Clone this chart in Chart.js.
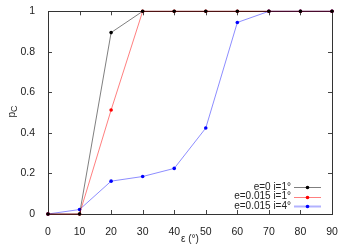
<!DOCTYPE html>
<html><head><meta charset="utf-8">
<script src="https://cdn.jsdelivr.net/npm/chart.js@4/dist/chart.umd.min.js"></script>
<style>html,body{margin:0;padding:0;background:#fff}#wrap{width:350px;height:245px}</style>
</head><body><div id="wrap"><canvas id="c" width="350" height="245"></canvas></div>
<script>
const epsilon = [0, 10, 20, 30, 40, 50, 60, 70, 80, 90];
const seriesNames = ['e=0 i=1°', 'e=0.015 i=1°', 'e=0.015 i=4°'];
const pcBlack = [0, 0, 0.895, 1, 1, 1, 1, 1, 1, 1];
const pcRed   = [0, 0, 0.513, 1, 1, 1, 1, 1, 1, 1];
const pcBlue  = [0, 0.022, 0.162, 0.185, 0.225, 0.424, 0.945, 1, 1, 1];
const xTicks = [0, 10, 20, 30, 40, 50, 60, 70, 80, 90];
const yTicks = [0, 0.2, 0.4, 0.6, 0.8, 1];

const FONT = '"Liberation Sans", Arial, sans-serif';
const pointCols = ['#000000', '#ff0000', '#0000ff'];
const lineCols = ['rgba(0,0,0,0.5)', 'rgba(255,0,0,0.5)', 'rgba(0,0,255,0.45)'];
const vals = [pcBlack, pcRed, pcBlue];

const datasets = vals.map((v, k) => ({
  label: seriesNames[k],
  data: epsilon.map((x, i) => ({x: x, y: v[i]})),
  borderColor: lineCols[k],
  backgroundColor: pointCols[k],
  pointBorderColor: pointCols[k],
  pointBackgroundColor: pointCols[k],
  borderWidth: 1,
  pointRadius: 1.8,
  pointBorderWidth: 0,
  pointHoverRadius: 1.8,
  tension: 0,
  clip: false
}));

const decor = {
  id: 'decor',
  beforeDatasetsDraw(chart) {
    const {ctx, chartArea: a, scales: {x, y}} = chart;
    ctx.save();
    ctx.strokeStyle = '#444';
    ctx.lineWidth = 1;
    ctx.beginPath();
    const L = 4;
    xTicks.forEach(t => {
      const px = Math.round(x.getPixelForValue(t)) + 0.5;
      ctx.moveTo(px, a.bottom); ctx.lineTo(px, a.bottom - L);
      ctx.moveTo(px, a.top); ctx.lineTo(px, a.top + L);
    });
    yTicks.forEach(t => {
      const py = Math.round(y.getPixelForValue(t)) + 0.5;
      ctx.moveTo(a.left, py); ctx.lineTo(a.left + L, py);
      ctx.moveTo(a.right, py); ctx.lineTo(a.right - L, py);
    });
    ctx.stroke();
    ctx.strokeStyle = '#333';
    ctx.strokeRect(Math.round(a.left) + 0.5, Math.round(a.top) + 0.5,
      Math.round(a.right - a.left), Math.round(a.bottom - a.top));
    ctx.restore();
  },
  afterDraw(chart) {
    const {ctx, chartArea: a} = chart;
    ctx.save();
    ctx.fillStyle = '#222';
    ctx.translate(15, 112);
    ctx.rotate(-Math.PI / 2);
    ctx.textBaseline = 'alphabetic';
    ctx.textAlign = 'left';
    ctx.font = '10px ' + FONT;
    ctx.fillText('p', -5.5, 0);
    ctx.font = '9px ' + FONT;
    ctx.fillText('C', 0, 1.5);
    ctx.restore();
    ctx.save();
    ctx.font = '10px ' + FONT;
    ctx.textAlign = 'right';
    ctx.textBaseline = 'middle';
    const rows = [187, 196.5, 206];
    seriesNames.forEach((n, k) => {
      const yy = rows[k];
      ctx.fillStyle = '#222';
      ctx.fillText(n, 291, yy);
      ctx.strokeStyle = k === 2 ? 'rgba(0,0,255,0.3)' : lineCols[k];
      ctx.lineWidth = k === 2 ? 2 : 1;
      ctx.beginPath();
      ctx.moveTo(294, Math.round(yy) + 0.5); ctx.lineTo(321, Math.round(yy) + 0.5);
      ctx.stroke();
      ctx.fillStyle = pointCols[k];
      ctx.beginPath();
      ctx.arc(307.5, Math.round(yy) + 0.5, 1.8, 0, Math.PI * 2);
      ctx.fill();
    });
    ctx.restore();
  }
};

new Chart(document.getElementById('c'), {
  type: 'line',
  data: {datasets},
  options: {
    responsive: false,
    animation: false,
    devicePixelRatio: 1,
    layout: {padding: {top: 10, right: 18, left: 0, bottom: 0}},
    plugins: {legend: {display: false}, tooltip: {enabled: false}},
    scales: {
      x: {
        type: 'linear', min: 0, max: 90,
        afterBuildTicks: s => { s.ticks = xTicks.map(v => ({value: v})); },
        afterFit: s => { s.height = 31; },
        grid: {display: false},
        border: {display: false},
        ticks: {font: {size: 10.5, family: FONT}, color: '#222', padding: 4, maxRotation: 0},
        title: {display: true, text: 'ε (°)', font: {size: 10, family: FONT}, color: '#222', padding: {top: 0, bottom: 0}}
      },
      y: {
        type: 'linear', min: 0, max: 1,
        afterBuildTicks: s => { s.ticks = yTicks.map(v => ({value: v})); },
        afterFit: s => { s.width = 48; },
        grid: {display: false},
        border: {display: false},
        ticks: {font: {size: 10.5, family: FONT}, color: '#222', padding: 5,
          callback: v => String(Math.round(v * 10) / 10)}
      }
    }
  },
  plugins: [decor]
});
</script></body></html>
